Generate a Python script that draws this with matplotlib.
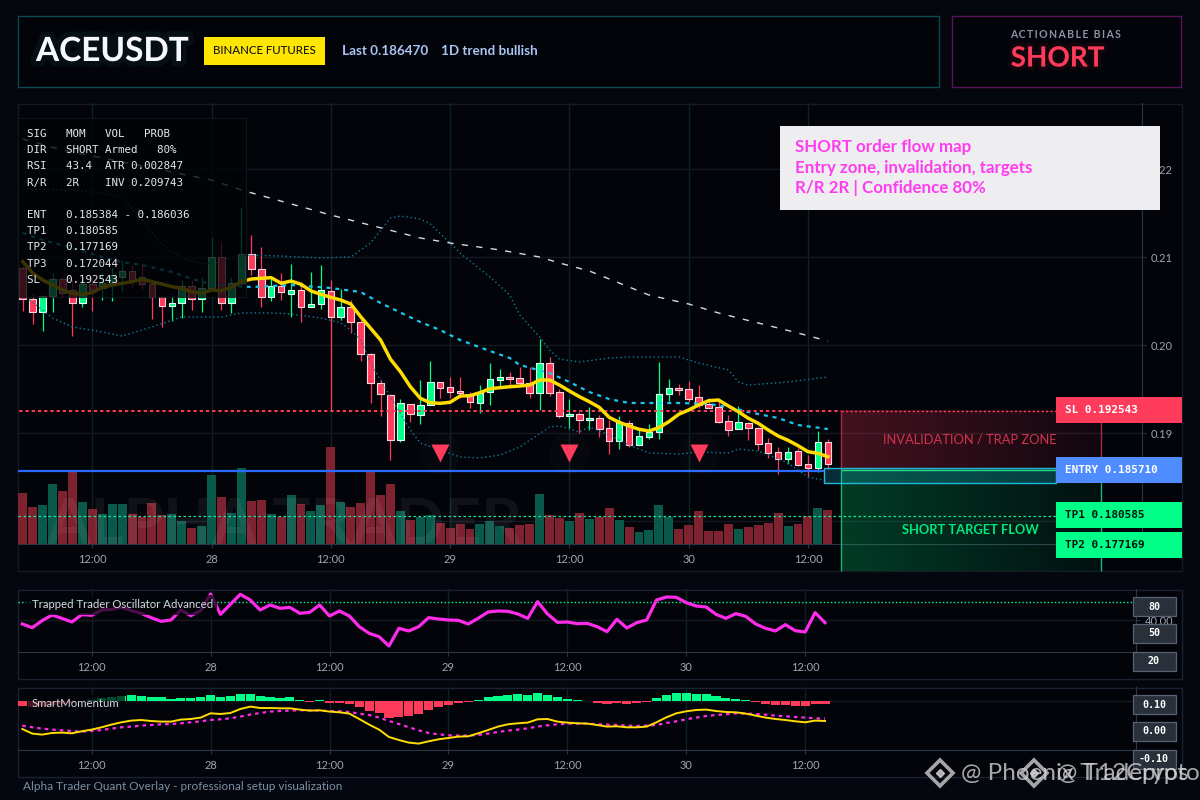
import numpy as np
import matplotlib
matplotlib.use("Agg")
import matplotlib.pyplot as plt
import matplotlib.patheffects as pe
from matplotlib.patches import Rectangle

# hourly candles
open_ = [.20872,.20519,.20372,.20560,.20747,.20625,.20474,.20690,.20644,.20700,.20776,.20844,.20776,.20690,.20549,.20447,.20474,.20670,.20519,.20644,.21003,.20474,.20701,.21031,.20860,.20549,.20674,.20583,.20622,.20435,.20463,.20610,.20322,.20428,.20265,.19894,.19565,.19428,.18917,.19326,.19208,.19315,.19576,.19519,.19477,.19432,.19344,.19469,.19606,.19633,.19622,.19565,.19458,.19792,.19463,.19193,.19213,.19148,.19167,.19053,.18913,.19110,.18864,.18958,.19015,.19440,.19508,.19497,.19406,.19330,.19292,.19133,.19049,.19110,.19053,.18883,.18781,.18708,.18792,.18644,.18606,.18894]
close = [.20519,.20372,.20560,.20747,.20588,.20474,.20690,.20625,.20701,.20795,.20844,.20739,.20690,.20549,.20447,.20474,.20670,.20519,.20644,.21003,.20474,.20701,.21031,.20860,.20549,.20674,.20599,.20622,.20435,.20466,.20622,.20322,.20428,.20265,.19894,.19565,.19440,.18917,.19338,.19213,.19315,.19576,.19515,.19469,.19458,.19349,.19451,.19610,.19633,.19617,.19565,.19458,.19792,.19458,.19197,.19213,.19151,.19170,.19049,.18913,.19128,.18864,.18963,.19015,.19440,.19508,.19492,.19386,.19318,.19288,.19125,.19034,.19122,.19060,.18875,.18776,.18708,.18781,.18640,.18606,.18894,.18651]
high = [.20898,.20588,.20568,.20815,.20784,.20739,.20784,.20773,.20818,.20886,.20966,.20909,.20928,.20739,.20557,.20568,.20739,.20739,.20776,.21231,.21185,.20776,.21565,.21250,.21117,.20776,.20815,.20920,.20719,.20830,.20909,.20739,.20636,.20511,.20307,.19909,.19602,.19440,.19386,.19330,.19602,.19818,.19580,.19636,.19636,.19469,.19545,.19795,.19727,.19690,.19747,.19753,.20068,.19860,.19497,.19386,.19239,.19292,.19205,.19148,.19193,.19148,.19034,.19102,.19807,.19610,.19557,.19594,.19545,.19394,.19375,.19205,.19307,.19122,.19072,.18943,.18844,.18844,.18826,.18750,.19023,.18935]
low = [.20390,.20239,.20163,.20378,.20545,.20106,.20435,.20390,.20511,.20500,.20617,.20663,.20625,.20295,.20208,.20276,.20303,.20398,.20375,.20625,.20398,.20367,.20644,.20795,.20435,.20500,.20511,.20322,.20265,.20428,.20406,.19261,.20284,.20133,.19822,.19344,.19193,.18697,.18901,.19128,.19102,.19315,.19401,.19394,.19398,.19284,.19224,.19318,.19526,.19526,.19545,.19401,.19261,.19420,.19174,.19053,.19003,.19034,.18958,.18761,.18818,.18844,.18864,.18932,.18932,.19364,.19432,.19356,.19288,.19281,.19110,.18966,.19049,.18920,.18807,.18713,.18534,.18648,.18625,.18503,.18560,.18587]
volume = [51,37,39,60,53,74,42,35,30,40,40,30,27,41,29,30,23,16,18,69,47,31,76,43,44,30,27,49,40,33,39,97,42,37,41,74,49,60,33,24,27,29,21,16,20,15,20,23,18,16,19,20,50,29,26,23,31,25,27,36,24,17,12,14,39,27,15,19,33,13,13,20,15,17,19,21,31,18,20,28,36,34]

ema_fast = [.20947,.20818,.20739,.20682,.20625,.20588,.20576,.20594,.20656,.20682,.20701,.20719,.20747,.20719,.20693,.20663,.20644,.20606,.20588,.20625,.20617,.20656,.20719,.20750,.20758,.20765,.20701,.20727,.20690,.20614,.20576,.20542,.20511,.20466,.20322,.20190,.20057,.19838,.19697,.19526,.19394,.19344,.19337,.19349,.19420,.19424,.19458,.19503,.19515,.19526,.19534,.19545,.19602,.19602,.19545,.19477,.19413,.19356,.19292,.19178,.19122,.19080,.19042,.19023,.19060,.19128,.19213,.19261,.19318,.19367,.19375,.19307,.19242,.19167,.19110,.19034,.18966,.18917,.18856,.18788,.18769,.18731]

band_mid_x = [0,2,5,8,10,12,15,18,20,23,27,31,34,36,40,42,44,47,49,50,53,55,57,59,61,63,66,69,71,73,76,78,81]
band_mid = [.21273,.21193,.21102,.21000,.20943,.20909,.20830,.20716,.20682,.20659,.20682,.20648,.20602,.20477,.20261,.20170,.20057,.19932,.19852,.19773,.19682,.19580,.19466,.19386,.19341,.19341,.19341,.19330,.19295,.19239,.19170,.19091,.19045]
band_up_x = [0,5,8,10,12,14,16,18,20,22,26,30,33,35,37,38,40,41,43,44,47,49,50,52,53,54,56,59,61,66,68,71,72,73,77,81]
band_up = [.21773,.21761,.21727,.21670,.21420,.21136,.20989,.20920,.20943,.21023,.21011,.20989,.21000,.21159,.21443,.21466,.21432,.21375,.21159,.21045,.20773,.20568,.20341,.20091,.19943,.19841,.19807,.19852,.19864,.19864,.19795,.19716,.19580,.19545,.19580,.19636]
band_lo_x = [0,2,3,5,8,10,13,16,20,22,25,27,30,32,33,34,35,37,39,40,42,44,46,48,50,53,54,56,57,59,61,63,66,68,71,72,74,77,79,81]
band_lo = [.20568,.20398,.20307,.20205,.20148,.20102,.20205,.20318,.20318,.20364,.20364,.20352,.20307,.20250,.20170,.20057,.19795,.19409,.19034,.18886,.18807,.18727,.18716,.18750,.18841,.19068,.19080,.19011,.19068,.18977,.18864,.18773,.18761,.18784,.18773,.18818,.18795,.18659,.18500,.18455]
trend_x = [0,4,19,22,31,40,43,48,52,54,57,60,63,67,70,74,78,81]
trend = [.22341,.22216,.21875,.21761,.21477,.21216,.21159,.21080,.21000,.20932,.20841,.20705,.20568,.20466,.20364,.20250,.20136,.20045]

signal_x = [42,55,68]
signal_y = [.18778,.18778,.18778]

sl_price = 0.192543
entry_price = 0.18571
tp1_price = 0.180585

osc = [31.7,23.5,39.2,51.9,44.4,36.2,52.7,51.2,63.2,64.6,69.1,61.7,55.7,45.9,37.7,40.7,63.2,50.4,61.7,99.1,53.4,75.9,98.4,85.6,63.2,74.4,66.9,69.1,55.7,57.9,74.4,49.7,60.9,49.7,25.7,10.7,3.2,-17.7,22,16,25.7,45.9,42.9,40.7,39.9,31.7,44.4,58.7,60.9,60.2,54.2,44.4,81.9,54.2,35.4,36.2,32.4,33.2,25.7,14.5,42.2,22.7,34.7,40.7,85.6,92.4,91.6,79.6,72.1,69.9,53.4,44.4,54.9,48.9,31.7,22,16,30.2,16.7,13.7,57.2,34.7]

# momentum panel, in thousandths
mom_hist = [-4.3,-6,-5,-4,-3,-2,.7,1.3,3.7,4.3,5.7,6.7,5.7,4.7,4,2.7,3.7,3.7,4,6.7,4.7,5.7,7.7,7.7,5.7,4.7,3.7,4,1.7,-.5,1.7,-1.7,-1.7,-2.3,-5.7,-9.7,-11.7,-16.3,-15.7,-14.3,-12.3,-8.3,-5.3,-3.3,-1.3,-.3,1.7,4.7,5.7,6.7,7.7,6.7,8.7,6.7,4.7,2.3,1.7,.7,-1.3,-2.3,-1.3,-2.3,-1.3,-.3,3.7,6.7,8.7,8.7,7.7,7.7,5.7,3.7,2.7,1.7,-.3,-2.3,-3.3,-3.3,-4.3,-4.3,-2.3,-2.3]
mom_line = [-27.7,-32.3,-33.3,-31.7,-31.3,-32,-30,-28.3,-26,-23.3,-21,-19.3,-18.7,-19.7,-20.3,-20.3,-18.3,-17.7,-16.3,-12,-12.7,-11.7,-7.7,-5.3,-6.7,-6.7,-7,-7,-8.3,-9.3,-9,-10.3,-11,-12.3,-17.7,-23.3,-28.3,-35.7,-38.7,-41.3,-42.3,-40,-38,-36.7,-35.3,-35,-32,-28.7,-25.3,-23,-22,-21.3,-18,-17.7,-20.3,-21.3,-22,-22.3,-23.7,-25.3,-25,-26,-26,-25.3,-21,-16,-12,-10,-8.7,-8.3,-9.7,-10.7,-11,-12.3,-14.3,-16.3,-17.7,-18.7,-20,-21,-19.3,-19.7]
mom_signal = [-24.3,-26,-27.3,-28.3,-29,-29.7,-30.3,-29.7,-28.7,-27.3,-26,-25.3,-24.3,-23.7,-23,-22.7,-22,-21,-20,-18.7,-18,-17,-15.3,-13.3,-11.7,-10.3,-9.7,-9.3,-9,-9,-9.3,-9.7,-10,-10.7,-12.3,-13.7,-16.3,-19.7,-22.7,-26,-29,-31.7,-33,-34,-34.3,-34.3,-33.7,-32.3,-30.7,-29.3,-28.3,-27,-25.3,-24,-23,-22.3,-22.3,-22.3,-23,-23.3,-23.7,-24.3,-24.7,-24.3,-23.7,-21.7,-20,-18,-16.3,-14.7,-13.7,-13,-12,-12.3,-12.7,-13.3,-14.3,-15,-15.7,-16.3,-17,-17.3]

time_ticks = [7,19,31,43,55,67,79]
time_labels = ["12:00","28","12:00","29","12:00","30","12:00"]
price_ticks = [.18,.19,.20,.21,.22]

info_lines = ["SIG   MOM   VOL   PROB",
              "DIR   SHORT Armed   80%",
              "RSI   43.4  ATR 0.002847",
              "R/R   2R    INV 0.209743",
              "",
              "ENT   0.185384 - 0.186036",
              "TP1   0.180585",
              "TP2   0.177169",
              "TP3   0.172044",
              "SL    0.192543"]
note_lines = ["SHORT order flow map", "Entry zone, invalidation, targets", "R/R 2R | Confidence 80%"]

RED = "#ff3b5c"
GREEN = "#00ff88"
BG = "#05070e"
PANEL = "#02040a"
GRID = "#141921"
VGRID = "#0b2225"
AXIS = "#2c3645"
TICK = "#a0a5ad"
UI = "Lato"
MONO = "DejaVu Sans Mono"

plt.rcParams["font.family"] = [UI, "DejaVu Sans"]

fig = plt.figure(figsize=(12, 8), dpi=100, facecolor=BG)


def px_axes(x0, y0, x1, y1, z):
    a = fig.add_axes([x0/1200, 1-y1/800, (x1-x0)/1200, (y1-y0)/800], zorder=z)
    a.patch.set_alpha(0)
    return a


def style_time_axis(a):
    a.set_xticks(time_ticks)
    a.set_xticklabels(time_labels, fontsize=8, color=TICK)
    a.tick_params(axis="x", length=3, width=.8, color=AXIS, pad=4)
    a.yaxis.tick_right()
    a.tick_params(axis="y", length=3, width=.8, color=AXIS, pad=3, labelsize=8, labelcolor=TICK)
    a.grid(axis="x", color=VGRID, lw=1)
    a.grid(axis="y", color=GRID, lw=1)
    a.set_axisbelow(True)
    for side in ("top", "left"):
        a.spines[side].set_visible(False)
    for side in ("bottom", "right"):
        a.spines[side].set_color(AXIS)


# background layer: panels
back = fig.add_axes([0, 0, 1, 1], zorder=0)
back.set_xlim(0, 1200)
back.set_ylim(800, 0)
back.axis("off")
back.add_patch(Rectangle((17.5, 15.5), 921, 71, fc=PANEL, ec="#0b4a50", lw=1))
back.add_patch(Rectangle((951.5, 15.5), 229, 71, fc=PANEL, ec="#591356", lw=1))
back.add_patch(Rectangle((17.5, 103.5), 1164.5, 467.5, fc=PANEL, ec="#151b26", lw=1))
back.add_patch(Rectangle((17.5, 589.5), 1164.5, 89, fc=PANEL, ec="#1a2230", lw=1))
back.add_patch(Rectangle((17.5, 687.5), 1164.5, 89, fc=PANEL, ec="#1a2230", lw=1))

# main price chart
idx = np.arange(len(close))
main_xlim = ((17.5-22.7)/9.94, (1142-22.7)/9.94)
main_ylim = (.19-111/8800, .19+330/8800)
ax = px_axes(17.5, 103, 1142, 544, 1)
ax.set_xlim(main_xlim)
ax.set_ylim(main_ylim)
style_time_axis(ax)
ax.set_yticks(price_ticks)
ax.set_yticklabels(["%.2f" % p for p in price_ticks])

vol_ax = px_axes(17.5, 103, 1142, 544, 2)
vol_ax.set_xlim(main_xlim)
vol_ax.set_ylim(0, 441)
vol_ax.axis("off")
vol_colors = ["#0a5a4c" if c >= o else "#7f2230" for o, c in zip(open_, close)]
vol_ax.bar(idx, volume, width=.9, color=vol_colors, zorder=1)
vol_ax.text(2.4, 0, "ALPHA TRADER", fontsize=46, fontweight="bold", color="white", alpha=.06,
            va="baseline", ha="left", zorder=2)

price = px_axes(17.5, 103, 1142, 544, 3)
price.set_xlim(main_xlim)
price.set_ylim(main_ylim)
price.axis("off")
for i in idx:
    up = close[i] >= open_[i]
    col = GREEN if up else RED
    price.vlines(i, low[i], high[i], color=col, lw=.9, zorder=3)
    price.bar(i, abs(close[i]-open_[i]), bottom=min(open_[i], close[i]), width=.66, color=col,
              edgecolor="#eafff5" if up else "#ffd5dd", linewidth=.8, zorder=4)

price.plot(band_up_x, band_up, color="#0c7f98", lw=1, ls=(0, (1, 2)), zorder=5)
price.plot(band_lo_x, band_lo, color="#0c7f98", lw=1, ls=(0, (1, 2)), zorder=5)
price.plot(band_mid_x, band_mid, color="#19c8f0", lw=1.6, ls=(0, (1.8, 2.2)), zorder=5)
price.plot(trend_x, trend, color="#d6d9dd", lw=1, ls=(0, (4.5, 6)), zorder=5)
price.hlines(sl_price, -1, 82.3, color=RED, lw=1.4, ls=(0, (1.7, 1.5)), zorder=5)
price.hlines(entry_price, -1, 80.6, color="#2a6bff", lw=1.6, zorder=6)
price.hlines(tp1_price, -1, 104, color="#18e8a0", lw=.9, ls=(0, (2, 2)), zorder=6)
price.plot(idx, ema_fast, color="#ffdd00", lw=2.5, zorder=7)
price.plot(signal_x, signal_y, ls="none", marker="o", ms=30, mfc="white", mec="none", alpha=.018, zorder=6)
price.plot(signal_x, signal_y, ls="none", marker="v", ms=12.5, mfc=RED, mec="none", zorder=8)

# oscillator panel
ax_osc = px_axes(17.5, 589, 1136.3, 652, 1)
ax_osc.set_xlim((17.5-22.3)/9.91, (1136.3-22.3)/9.91)
ax_osc.set_ylim(40-31.7/.445, 40+31.3/.445)
style_time_axis(ax_osc)
ax_osc.set_yticks([40])
ax_osc.set_yticklabels(["40.00"])
ax_osc.axhline(80, color="#00ff88", lw=1, ls=(0, (1, 1.6)))
ax_osc.plot(idx, osc, color="#ff2bea", lw=2.3, clip_on=False, zorder=3)

# momentum panel
ax_mom = px_axes(17.5, 687, 1136.3, 750, 1)
ax_mom.set_xlim((17.5-22.3)/9.91, (1136.3-22.3)/9.91)
ax_mom.set_ylim(-48.7, 14.3)
style_time_axis(ax_mom)
ax_mom.set_yticks([0])
ax_mom.set_yticklabels([""])
ax_mom.bar(idx, mom_hist, width=.92, color=[GREEN if v >= 0 else RED for v in mom_hist], zorder=2)
ax_mom.plot(idx, mom_signal, color="#ff2bea", lw=1.6, ls=(0, (1.6, 1.8)), zorder=3)
ax_mom.plot(idx, mom_line, color="#ffdd00", lw=1.4, zorder=4)

# overlay: header, zones, price tags
top = fig.add_axes([0, 0, 1, 1], zorder=5)
top.patch.set_alpha(0)
top.axis("off")

glow = [pe.withStroke(linewidth=8, foreground="#0d2a2e", alpha=.3)]
top.text(36, 51.5, "ACEUSDT", fontsize=24, fontweight="bold", color="#f6f8fb", va="center", path_effects=glow)
top.add_patch(Rectangle((204, 37), 121, 28, fc="#ffe600", ec="none"))
top.text(264.5, 51, "BINANCE FUTURES", fontsize=8.3, color="#15130a", ha="center", va="center", fontweight="medium")
top.text(342, 51, "Last 0.186470", fontsize=9.7, color="#a9c4f2", va="center", fontweight="bold")
top.text(441, 51, "1D trend bullish", fontsize=9.7, color="#a9c4f2", va="center", fontweight="bold")
top.text(1065.5, 34, "\u2009".join("ACTIONABLE BIAS"), fontsize=7.6, color="#8a94a4",
         ha="center", va="center", fontweight="bold")
top.text(1057.5, 58.5, "SHORT", fontsize=20, color=RED, ha="center", va="center", fontweight="bold",
         path_effects=[pe.withStroke(linewidth=5, foreground="#3a0c18", alpha=.35)])

# info table dims whatever sits under it
top.add_patch(Rectangle((17.5, 118), 228.5, 179, fc="#020306", ec="#141820", lw=.8, alpha=.78))
line_y = 134
for row in info_lines:
    top.text(27, line_y, row, family=MONO, fontsize=7.85, color="#e6e9ee", va="center")
    line_y += 16.2

# zones, fading to the right
zone_fade = np.linspace(1, .25, 128)


def zone(x0, x1, y0, y1, rgb, strength):
    rgba = np.zeros((1, 128, 4))
    rgba[..., :3] = rgb
    rgba[..., 3] = zone_fade*strength
    top.imshow(rgba, extent=(x0, x1, y1, y0), aspect="auto", zorder=2, interpolation="bilinear")


zone(841, 1101, 410.5, 470, (1, .23, .36), .26)
zone(841, 1101, 470, 571, (0, 1, .53), .22)
top.vlines([841, 1101], 410.5, 470, color="#a82a40", lw=1, zorder=3)
top.vlines([841, 1101], 470, 571, color="#14b870", lw=1, zorder=3)
top.hlines(410.5, 841, 1056, color=RED, lw=1, ls=(0, (1.7, 1.5)), zorder=3)
top.add_patch(Rectangle((823.5, 467.5), 232.5, 15, fc="#1dd5ff", alpha=.2, ec="none", zorder=3))
top.add_patch(Rectangle((823.5, 467.5), 232.5, 15, fc="none", ec="#1fb9dc", lw=1, zorder=3))
top.hlines(470.3, 841, 1056, color="#1fe08a", lw=1, zorder=4)
top.text(970, 440, "INVALIDATION / TRAP ZONE", fontsize=9.3, color="#d4324e", ha="center", va="center", zorder=4)
top.text(970.5, 530, "SHORT TARGET FLOW", fontsize=9.3, color="#00e87e", ha="center", va="center", fontweight="bold", zorder=4)

tags = [("SL 0.192543", 397, RED, "white"),
        ("ENTRY 0.185710", 457, "#4f8cff", "white"),
        ("TP1 0.180585", 502, GREEN, "#03140c"),
        ("TP2 0.177169", 532, GREEN, "#03140c")]
for label, tag_top, fill, ink in tags:
    top.add_patch(Rectangle((1056, tag_top), 126, 26, fc=fill, ec="none", zorder=5))
    top.text(1065, tag_top+13, label, family=MONO, fontsize=7.9, fontweight="bold", color=ink, va="center", zorder=6)

# annotation box
top.add_patch(Rectangle((780, 126), 380, 84, fc="#f0f0f3", ec="none", alpha=.995, zorder=6))
for row, y in zip(note_lines, (147, 168, 188)):
    top.text(795, y, row, fontsize=12.2, color="#ff3df0", va="center", zorder=7, fontweight="bold")

# small boxes on the side scales
for label, box_top in [("80", 597), ("50", 624), ("20", 652), ("0.10", 695), ("0.00", 722), ("-0.10", 750)]:
    top.add_patch(Rectangle((1132.5, box_top), 43, 18.5, fc="#2a303a", ec="#566172", lw=.9, zorder=5))
    top.text(1154, box_top+9.5, label, family=MONO, fontsize=7.2, fontweight="bold", color="white",
             ha="center", va="center", zorder=6)

# panel names
top.add_patch(Rectangle((26, 595), 191, 20, fc=PANEL, ec="none", alpha=.72, zorder=3))
top.text(32, 605, "Trapped Trader Oscillator Advanced", fontsize=8.2, color="#d5d8dc", va="center", zorder=4)
top.add_patch(Rectangle((27, 695), 98, 17, fc=PANEL, ec="none", alpha=.72, zorder=3))
top.text(32, 703.5, "SmartMomentum", fontsize=8.2, color="#d5d8dc", va="center", zorder=4)

top.text(23, 787, "Alpha Trader Quant Overlay - professional setup visualization", fontsize=8.5, color="#7b8fa2", va="center")

# repost watermarks over the corner
for cx, name, tx in [(940, "@ Phoenix Tradepros", 961), (1034, "@ T12Crypto", 1057)]:
    top.plot([cx], [773], marker="D", ms=4.5, color="#cfcfcf", alpha=.85, zorder=8)
    top.plot([cx], [773], marker="D", ms=13, mfc="none", mec="#cfcfcf", mew=2.6, alpha=.8, zorder=8)
    top.text(tx, 773, name, fontsize=17.5, color="#d6d6d6", alpha=.78, va="center", zorder=8)

top.set_xlim(0, 1200)
top.set_ylim(800, 0)

fig.savefig("out.png", dpi=100, facecolor=BG)
